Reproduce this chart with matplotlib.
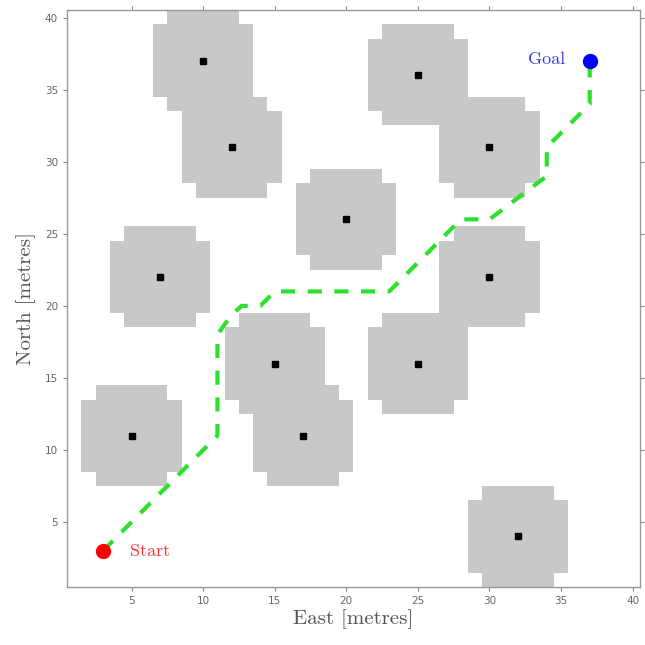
import matplotlib
matplotlib.use("Agg")
import matplotlib.pyplot as plt
import numpy as np

# obstacle centres (east, north)
obs_east = [10, 12, 25, 30, 20, 7, 30, 15, 25, 5, 17, 32]
obs_north = [37, 31, 36, 31, 26, 22, 22, 16, 16, 11, 11, 4]

# planned path waypoints
path_east = [3, 11, 11, 12, 12.7, 14, 15, 23, 28, 30, 34, 34, 37, 37]
path_north = [3, 11, 18, 19.4, 20, 20, 21, 21, 26, 26, 29, 31, 34, 37]

start = (3, 3)
goal = (37, 37)
grid_size = 40

# inflated occupancy grid
occ = np.zeros((grid_size, grid_size))
for cx, cy in zip(obs_east, obs_north):
    for dx in range(-3, 4):
        for dy in range(-3, 4):
            if dx * dx + dy * dy <= 13:
                ix, iy = cx + dx - 1, cy + dy - 1
                if 0 <= ix < grid_size and 0 <= iy < grid_size:
                    occ[iy, ix] = 1

fig = plt.figure(figsize=(6.45, 6.45), dpi=100)
ax = fig.add_axes([0.104, 0.09, 0.888, 0.894])

cmap = matplotlib.colors.ListedColormap(["white", "#c8c8c8"])
ax.imshow(occ, origin="lower", cmap=cmap, vmin=0, vmax=1,
          extent=(0.5, grid_size + 0.5, 0.5, grid_size + 0.5),
          aspect="auto", interpolation="nearest")

ax.plot(obs_east, obs_north, "s", color="black", markersize=5)

ax.plot(path_east, path_north, color="#2ee02e", linewidth=3,
        dashes=(3.4, 3.0), solid_capstyle="butt")

ax.plot(*start, "o", color="red", markersize=10)
ax.plot(*goal, "o", color="blue", markersize=10)
ax.text(4.9, 3, "Start", color="#ff3030", fontsize=13, family="cmr10",
        ha="left", va="center")
ax.text(35.3, 37.1, "Goal", color="#3a3ae0", fontsize=13, family="cmr10",
        ha="right", va="center")

ax.set_xlim(0.5, grid_size + 0.5)
ax.set_ylim(0.5, grid_size + 0.5)
ax.set_xticks(range(5, 41, 5))
ax.set_yticks(range(5, 41, 5))
ax.tick_params(direction="out", length=3, width=0.8, colors="#888888",
               labelsize=7.5, labelcolor="#666666",
               top=True, right=True)
for s in ax.spines.values():
    s.set_color("#999999")
    s.set_linewidth(1.0)

ax.set_xlabel("East [metres]", family="cmr10", fontsize=15, color="#555555",
              labelpad=2)
ax.set_ylabel("North [metres]", family="cmr10", fontsize=15, color="#555555",
              labelpad=6)

fig.savefig("out.png", dpi=100)
